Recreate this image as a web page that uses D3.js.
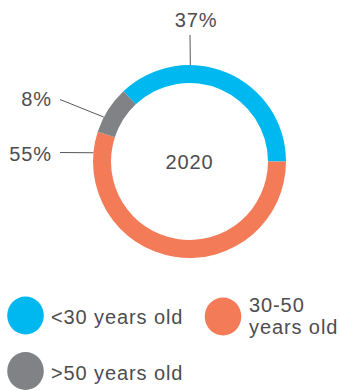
<!DOCTYPE html>
<html>
<head>
<meta charset="utf-8">
<script src="https://cdn.jsdelivr.net/npm/d3@7"></script>
<style>
  html, body { margin: 0; padding: 0; background: #fff; }
  svg { display: block; font-family: "Liberation Sans", Arial, sans-serif; }
  text { fill: #4d4d4f; font-size: 20px; letter-spacing: 0.9px; }
</style>
</head>
<body>
<div id="donut"></div>
<script>
// data
const categories = ["<30 years old", "30-50 years old", ">50 years old"];
const legendLines = [["<30 years old"], ["30-50", "years old"], [">50 years old"]];
const values = [37, 55, 8];
const colours = ["#00b8f0", "#f47b57", "#808285"];
const centreLabel = "2020";

const width = 340, height = 390;
const cx = 189.5, cy = 161.5;
const outerR = 96.5, innerR = 78.5;

const svg = d3.select("#donut")
  .append("svg")
  .attr("width", width)
  .attr("height", height);

const g = svg.append("g").attr("transform", "translate(" + cx + "," + cy + ")");

// first slice ends at 3 o'clock, the rest run clockwise from there
const total = d3.sum(values);
const start = Math.PI / 2 - values[0] / total * 2 * Math.PI;
const pie = d3.pie().sort(null).value(d => d)
  .startAngle(start).endAngle(start + 2 * Math.PI);
const arcs = pie(values);
const arc = d3.arc().innerRadius(innerR).outerRadius(outerR);

g.selectAll("path.slice")
  .data(arcs)
  .enter().append("path")
  .attr("class", "slice")
  .attr("d", arc)
  .attr("fill", (d, i) => colours[i]);

g.append("text")
  .attr("x", 0)
  .attr("y", 7.5)
  .attr("text-anchor", "middle")
  .text(centreLabel);

// call-out labels: angle where the leader meets the ring, and where the text sits
const callouts = [
  { i: 0, ang: 0.5, from: [190, 35], tx: 196, ty: 27, anchor: "middle" },
  { i: 2, ang: -62.6, from: [60, 99.5], tx: 52, ty: 106, anchor: "end" },
  { i: 1, ang: -84.8, from: [60, 152.5], tx: 52, ty: 161, anchor: "end" }
];
callouts.forEach(c => {
  const a = c.ang * Math.PI / 180;
  const ex = cx + outerR * Math.sin(a), ey = cy - outerR * Math.cos(a);
  svg.append("line")
    .attr("x1", c.from[0]).attr("y1", c.from[1])
    .attr("x2", ex).attr("y2", ey)
    .attr("stroke", "#58585a")
    .attr("stroke-width", 1);
  svg.append("text")
    .attr("x", c.tx).attr("y", c.ty)
    .attr("text-anchor", c.anchor)
    .text(values[c.i] + "%");
});

// legend
const legendPos = [
  { x: 25.5, y: 315.5, tx: 51, ty: 324 },
  { x: 223, y: 316.5, tx: 249, ty: 312 },
  { x: 25.5, y: 371, tx: 51, ty: 380 }
];
const legend = svg.selectAll("g.legend")
  .data(categories)
  .enter().append("g")
  .attr("class", "legend");
legend.append("ellipse")
  .attr("cx", (d, i) => legendPos[i].x)
  .attr("cy", (d, i) => legendPos[i].y)
  .attr("rx", 18.3)
  .attr("ry", 19)
  .attr("fill", (d, i) => colours[i]);
legend.each(function (d, i) {
  const t = d3.select(this).append("text");
  legendLines[i].forEach((line, k) => {
    t.append("tspan")
      .attr("x", legendPos[i].tx)
      .attr("y", legendPos[i].ty + k * 21.5)
      .text(line);
  });
});
</script>
</body>
</html>
